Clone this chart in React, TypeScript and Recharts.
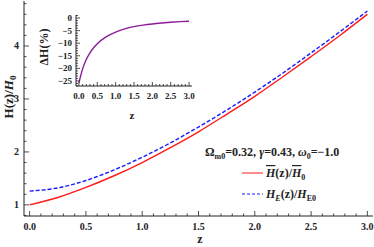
import React from "react";
import { LineChart, Line, XAxis, YAxis, CartesianGrid } from "recharts";

// main panel: normalised Hubble rate vs redshift
const zMain = [0, 0.25, 0.5, 0.75, 1, 1.25, 1.5, 1.75, 2, 2.25, 2.5, 2.75, 3];
const hBar = [1.0, 1.14, 1.33, 1.55, 1.8, 2.08, 2.38, 2.71, 3.05, 3.42, 3.8, 4.19, 4.6];
const hE = [1.26, 1.32, 1.46, 1.66, 1.9, 2.17, 2.47, 2.79, 3.13, 3.49, 3.87, 4.26, 4.66];

// inset: relative difference in percent
const zInset = [0, 0.1, 0.2, 0.3, 0.4, 0.5, 0.75, 1, 1.25, 1.5, 1.75, 2, 2.25, 2.5, 2.75, 3];
const deltaH = [-25.7, -20.2, -16.5, -13.8, -11.8, -10.2, -7.4, -5.6, -4.3, -3.4, -2.8, -2.35, -2.0, -1.7, -1.45, -1.25];

const xMajor = [0, 0.5, 1, 1.5, 2, 2.5, 3];
const yMajor = [1, 2, 3, 4];
const insetXMajor = [0, 0.5, 1, 1.5, 2, 2.5, 3];
const insetYMajor = [-25, -20, -15, -10, -5, 0];

const mainData = zMain.map((z, i) => ({ z, hBar: hBar[i], hE: hE[i] }));
const insetData = zInset.map((z, i) => ({ z, d: deltaH[i] }));

const steps = (from: number, to: number, step: number) => {
  const out: number[] = [];
  const n = Math.round((to - from) / step);
  for (let i = 0; i <= n; i++) out.push(Math.round((from + i * step) * 1000) / 1000);
  return out;
};

const xTicks = steps(0, 3, 0.1);
const yTicks = steps(0.8, 4.8, 0.2);
const insetXTicks = steps(0, 3, 0.1);
const insetYTicks = steps(-27, 1, 1);

const FONT = "'Liberation Serif', 'Times New Roman', serif";
const INK = "#222";

const isIn = (v: number, list: number[]) => list.some((m) => Math.abs(m - v) < 1e-6);
const fmt = (v: number, digits: number) => v.toFixed(digits).replace("-", "\u2212");

type Side = "bottom" | "left" | "top" | "right";

function tickRenderer(side: Side, majors: number[], opts: { major: number; minor: number; label?: boolean; digits?: number; size?: number; gap?: number }) {
  return (props: any) => {
    const { x, y, payload } = props;
    const v = payload.value as number;
    const major = isIn(v, majors);
    const len = major ? opts.major : opts.minor;
    let line;
    if (side === "bottom") line = <line x1={x} x2={x} y1={y} y2={y - len} stroke={INK} strokeWidth={0.8} />;
    else if (side === "top") line = <line x1={x} x2={x} y1={y} y2={y + len} stroke={INK} strokeWidth={0.8} />;
    else if (side === "left") line = <line x1={x} x2={x + len} y1={y} y2={y} stroke={INK} strokeWidth={0.8} />;
    else line = <line x1={x} x2={x - len} y1={y} y2={y} stroke={INK} strokeWidth={0.8} />;
    let label = null;
    if (opts.label && major) {
      const s = fmt(v, opts.digits ?? 0);
      if (side === "bottom")
        label = (
          <text x={x} y={y + (opts.gap ?? 14)} textAnchor="middle" fontSize={opts.size} fontWeight="bold" fontFamily={FONT} fill={INK}>
            {s}
          </text>
        );
      else
        label = (
          <text x={x - (opts.gap ?? 5)} y={y + 3} textAnchor="end" fontSize={opts.size} fontWeight="bold" fontFamily={FONT} fill={INK}>
            {s}
          </text>
        );
    }
    return (
      <g>
        {line}
        {label}
      </g>
    );
  };
}

const axisLine = { stroke: INK, strokeWidth: 1 };

export default function App() {
  return (
    <div style={{ position: "absolute", left: 0, top: 0, width: 374, height: 247, background: "#fff" }}>
      <LineChart width={374} height={247} data={mainData} margin={{ top: 1, right: 1, left: 0, bottom: 0 }}>
        <XAxis dataKey="z" type="number" domain={[-0.05, 3.05]} allowDataOverflow ticks={xTicks} interval={0}
          height={31} tickSize={0} tickMargin={0} tickLine={false} axisLine={axisLine}
          tick={tickRenderer("bottom", xMajor, { major: 5, minor: 2.5, label: true, digits: 1, size: 10, gap: 14 })} />
        <XAxis xAxisId="top" orientation="top" dataKey="z" type="number" domain={[-0.05, 3.05]} allowDataOverflow ticks={xTicks} interval={0}
          height={0} tickSize={0} tickMargin={0} tickLine={false} axisLine={axisLine}
          tick={tickRenderer("top", xMajor, { major: 5, minor: 2.5 })} />
        <YAxis type="number" domain={[0.79, 4.85]} allowDataOverflow ticks={yTicks} interval={0}
          width={24} tickSize={0} tickMargin={0} tickLine={false} axisLine={axisLine}
          tick={tickRenderer("left", yMajor, { major: 5, minor: 2.5, label: true, digits: 0, size: 10, gap: 5 })} />
        <YAxis yAxisId="right" orientation="right" type="number" domain={[0.79, 4.85]} allowDataOverflow ticks={yTicks} interval={0}
          width={0} tickSize={0} tickMargin={0} tickLine={false} axisLine={axisLine}
          tick={tickRenderer("right", yMajor, { major: 5, minor: 2.5 })} />
        <Line dataKey="hBar" type="monotone" stroke="#ff1a1a" strokeWidth={1.4} dot={false} isAnimationActive={false} />
        <Line dataKey="hE" type="monotone" stroke="#1a1aff" strokeWidth={1.4} strokeDasharray="4 2" dot={false} isAnimationActive={false} />
      </LineChart>

      <div style={{ position: "absolute", left: 36, top: 12, width: 160, height: 100 }}>
        <LineChart width={160} height={100} data={insetData} margin={{ top: 3, right: 4, left: 0, bottom: 0 }}>
          <CartesianGrid horizontal={false} vertical={false} fill="#fff" fillOpacity={1} />
          <XAxis dataKey="z" type="number" domain={[-0.08, 3.08]} allowDataOverflow ticks={insetXTicks} interval={0}
            height={26} tickSize={0} tickMargin={0} tickLine={false} axisLine={axisLine}
            tick={tickRenderer("bottom", insetXMajor, { major: 4, minor: 2, label: true, digits: 1, size: 9, gap: 13 })} />
          <XAxis xAxisId="top" orientation="top" dataKey="z" type="number" domain={[-0.08, 3.08]} allowDataOverflow ticks={insetXTicks} interval={0}
            height={0} tickSize={0} tickMargin={0} tickLine={false} axisLine={axisLine}
            tick={tickRenderer("top", insetXMajor, { major: 4, minor: 2 })} />
          <YAxis type="number" domain={[-27, 1.2]} allowDataOverflow ticks={insetYTicks} interval={0}
            width={40} tickSize={0} tickMargin={0} tickLine={false} axisLine={axisLine}
            tick={tickRenderer("left", insetYMajor, { major: 4, minor: 2, label: true, digits: 0, size: 9, gap: 4 })} />
          <YAxis yAxisId="right" orientation="right" type="number" domain={[-27, 1.2]} allowDataOverflow ticks={insetYTicks} interval={0}
            width={0} tickSize={0} tickMargin={0} tickLine={false} axisLine={axisLine}
            tick={tickRenderer("right", insetYMajor, { major: 4, minor: 2 })} />
          <Line dataKey="d" type="monotone" stroke="#8e1a9a" strokeWidth={1.4} dot={false} isAnimationActive={false} />
        </LineChart>
      </div>

      <svg width={374} height={247} style={{ position: "absolute", left: 0, top: 0, pointerEvents: "none" }}
        fontFamily={FONT} fontWeight="bold" fill={INK}>
        {/* main axis labels */}
        <text x={200} y={243} textAnchor="middle" fontSize={12}>z</text>
        <text transform="translate(13,97) rotate(-90)" textAnchor="middle" fontSize={13}>
          H(z)/<tspan fontStyle="italic">H</tspan><tspan fontSize={9} dy={3}>0</tspan>
        </text>
        {/* inset axis labels */}
        <text x={132} y={119} textAnchor="middle" fontSize={11}>z</text>
        <text transform="translate(48,47) rotate(-90)" textAnchor="middle" fontSize={12}>ΔH(%)</text>

        {/* parameters + legend */}
        <text x={205} y={156} fontSize={12}>
          Ω<tspan fontSize={8} dy={3}>m0</tspan><tspan dy={-3}>=0.32, </tspan>
          <tspan fontStyle="italic">γ</tspan>=0.43, <tspan fontStyle="italic">ω</tspan>
          <tspan fontSize={8} dy={3}>0</tspan><tspan dy={-3}>=−1.0</tspan>
        </text>
        <line x1={242} x2={263} y1={173} y2={173} stroke="#ff1a1a" strokeWidth={1} />
        <text x={266} y={177} fontSize={12}>
          <tspan fontStyle="italic" textDecoration="overline">H</tspan>(z)/<tspan fontStyle="italic" textDecoration="overline">H</tspan>
          <tspan fontSize={8} dy={3}>0</tspan>
        </text>
        <line x1={242} x2={263} y1={194} y2={194} stroke="#1a1aff" strokeWidth={1} strokeDasharray="3 2" />
        <text x={266} y={198} fontSize={12}>
          <tspan fontStyle="italic">H</tspan><tspan fontSize={8} dy={3} fontStyle="italic">E</tspan>
          <tspan dy={-3}>(z)/</tspan><tspan fontStyle="italic">H</tspan><tspan fontSize={8} dy={3}>E0</tspan>
        </text>
      </svg>
    </div>
  );
}
